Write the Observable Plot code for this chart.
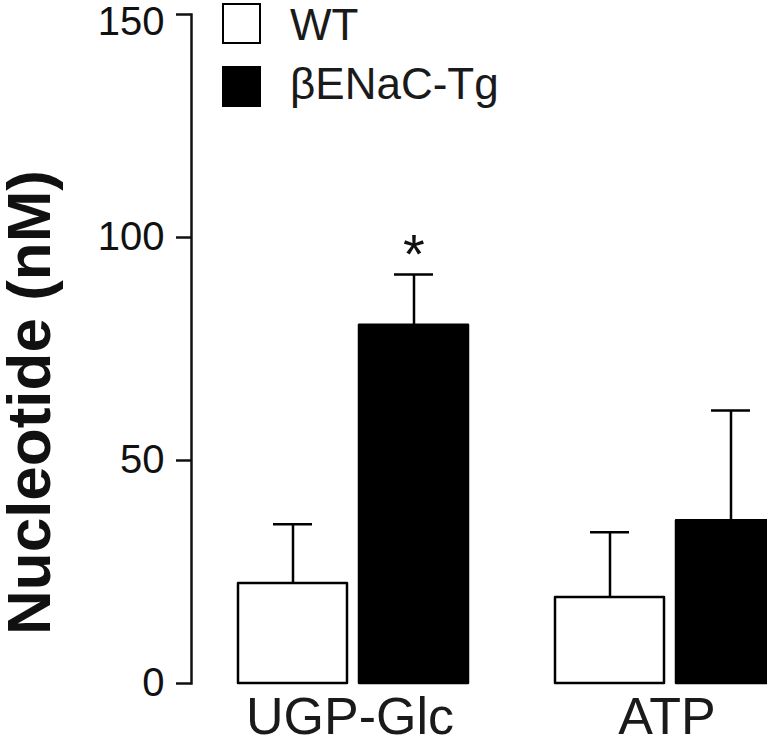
<!DOCTYPE html>
<html>
<head>
<meta charset="utf-8">
<script src="https://cdn.jsdelivr.net/npm/d3@7"></script>
<script src="https://cdn.jsdelivr.net/npm/@observablehq/plot@0.6"></script>
<style>
  html, body { margin: 0; padding: 0; background: #fff; overflow: hidden; }
  #wrap { position: relative; width: 767px; height: 744px; font-family: "Liberation Sans", Arial, sans-serif; color: #1a1a1a; }
  #chart { position: absolute; left: 0; top: 0; }
  .ytitle { position: absolute; left: 1px; top: 103px; width: 56px; height: 600px; line-height: 56px;
            writing-mode: vertical-rl; transform: rotate(180deg); text-align: center;
            font-size: 62px; font-weight: bold; color: #111; white-space: nowrap; }
  .sw { position: absolute; left: 222px; width: 35px; height: 37px; border: 2.5px solid #000; }
  .lt { position: absolute; left: 290px; font-size: 44px; line-height: 44px; white-space: nowrap; }
</style>
</head>
<body>
<div id="wrap">
  <div id="chart"></div>
  <div class="ytitle">Nucleotide (nM)</div>
  <div id="legend"></div>
</div>
<script>
// Data
const nucleotides = ["UGP-Glc", "ATP"];
const genotypes = ["WT", "βENaC-Tg"];
const meanWT = [22.4, 19.3];
const semWT  = [13.3, 14.6];
const meanTg = [80.3, 36.5];
const semTg  = [11.4, 24.7];
const sigTg  = ["*", ""];
const yTicks = [0, 50, 100, 150];
const genotypeFill = ["white", "black"];

const data = [];
nucleotides.forEach((n, i) => {
  data.push({nucleotide: n, genotype: genotypes[0], mean: meanWT[i], sem: semWT[i], sig: ""});
  data.push({nucleotide: n, genotype: genotypes[1], mean: meanTg[i], sem: semTg[i], sig: sigTg[i]});
});

const chart = Plot.plot({
  width: 767,
  height: 744,
  marginLeft: 190,
  marginRight: 0,
  marginTop: 14,
  marginBottom: 61,
  style: {fontFamily: "'Liberation Sans', Arial, sans-serif", fontSize: "40px", color: "#111", background: "#fff"},
  fx: {domain: nucleotides, range: [190, 794], paddingInner: 0.1, paddingOuter: 0, label: null},
  x: {domain: genotypes, range: [237, 467], paddingInner: 0.1, paddingOuter: 0, axis: null},
  y: {domain: [0, 150], ticks: yTicks, tickSize: 15, tickPadding: 12, line: true, label: null},
  color: {domain: genotypes, range: genotypeFill},
  marks: [
    Plot.axisFx({anchor: "bottom", tickSize: 0, tickPadding: 14, dx: 16, fontSize: 52, label: null, fill: "#1a1a1a"}),
    Plot.ruleX(data, {fx: "nucleotide", x: "genotype", y1: "mean", y2: d => d.mean + d.sem, stroke: "black", strokeWidth: 2.5}),
    Plot.tickY(data, {fx: "nucleotide", x: "genotype", y: d => d.mean + d.sem, stroke: "black", strokeWidth: 2.5, insetLeft: 35, insetRight: 35}),
    Plot.barY(data, {fx: "nucleotide", x: "genotype", y: "mean", fill: "genotype", stroke: "black", strokeWidth: 2.5, strokeLinejoin: "round"}),
    Plot.text(data.filter(d => d.sig), {fx: "nucleotide", x: "genotype", y: d => d.mean + d.sem, text: "sig", fontSize: 56, lineAnchor: "bottom", dy: -2, fill: "#111"})
  ]
});
document.getElementById("chart").appendChild(chart);

const svg = d3.select(chart.tagName.toLowerCase() === "svg" ? chart : chart.querySelector("svg"));
// Heavier axis line and ticks, as in the reference
svg.selectAll('[aria-label^="y-axis"], [aria-label="frame"]').each(function () {
  const lbl = this.getAttribute("aria-label");
  if (lbl && lbl.indexOf("label") >= 0) return;
  d3.select(this).attr("stroke-width", 2.5);
  d3.select(this).selectAll("*").attr("stroke-width", 2.5);
});
// The top tick label sits slightly below its tick in the reference
svg.selectAll('[aria-label="y-axis tick label"] text')
  .filter(function () { return this.textContent === String(yTicks[yTicks.length - 1]); })
  .attr("dy", 8);

// Legend
const legend = document.getElementById("legend");
const swTops = [3, 66];
const txtTops = [3, 62];
genotypes.forEach((g, i) => {
  const sw = document.createElement("div");
  sw.className = "sw";
  sw.style.top = swTops[i] + "px";
  sw.style.background = genotypeFill[i];
  legend.appendChild(sw);
  const t = document.createElement("div");
  t.className = "lt";
  t.style.top = txtTops[i] + "px";
  t.textContent = g;
  legend.appendChild(t);
});
</script>
</body>
</html>
